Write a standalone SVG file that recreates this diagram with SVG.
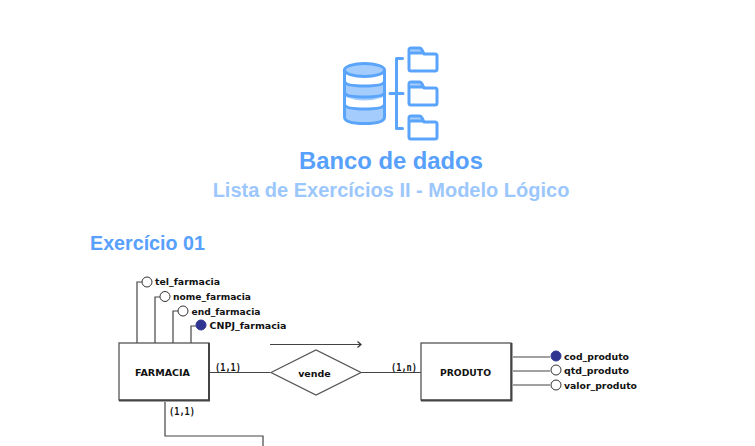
<svg xmlns="http://www.w3.org/2000/svg" width="755" height="446" viewBox="0 0 755 446">
<defs>
<marker id="arrow" markerUnits="userSpaceOnUse" markerWidth="6" markerHeight="8" refX="5" refY="4" orient="auto"><path d="M1.500 1L5 4L1.500 7" fill="none" stroke="#333" stroke-width="1.200"/></marker>
</defs>
<style>
text{font-family:"Liberation Sans",Arial,sans-serif}
.title{font-weight:700;text-anchor:middle}
.lab{font-family:"DejaVu Sans",Verdana,sans-serif;font-size:9.500px;font-weight:700;fill:#111}
.card{font-family:"DejaVu Sans Mono","Liberation Mono",monospace;font-size:11px;font-weight:700;fill:#111}
.ent{fill:#fff;stroke:#555;stroke-width:1.300}
.shadow{fill:none;stroke:#444;stroke-width:2}
.line{fill:none;stroke:#444;stroke-width:1.200}
.open{fill:#fff;stroke:#333;stroke-width:1}
.key{fill:#2f3590;stroke:#2f3590;stroke-width:1}
.ico{fill:none;stroke:#5ba4fb;stroke-width:3;stroke-linejoin:round;stroke-linecap:round}
.icof{fill:#a4cdfd}
</style>
<g id="icon">
<path class="icof" d="M345 70a19.500 6.500 0 0 1 39 0a19.500 6.500 0 0 1-39 0zM345 84q19.500 6 39 0v13q-19.500 7-39 0zM345 107q19.500 6 39 0v13q-19.500 5-39 0z"/>
<ellipse class="ico" cx="364.500" cy="70" rx="20" ry="6.500"/>
<path class="ico" d="M344.500 70v47q0 6.500 20 6.500t20-6.500v-47M344.500 81q0 5 20 5t20-5M344.500 92q0 5 20 5t20-5M344.500 104q0 5 20 5t20-5"/>
<path class="ico" d="M390 93.500h13M396.500 58.500h6M396.500 128.500h6M396.500 58.500v70"/>
<g id="folder1"><path class="icof" d="M411 48h10l2 5h-12z"/><path class="ico" d="M409 69V50q0-2 2-2h9q1 0 2 2l2 4h11q2 0 2 2v13q0 2-2 2h-24q-2 0-2-2zM409 53h14"/></g>
<g id="folder2"><path class="icof" d="M411 82h10l2 5h-12z"/><path class="ico" d="M409 103V84q0-2 2-2h9q1 0 2 2l2 4h11q2 0 2 2v13q0 2-2 2h-24q-2 0-2-2zM409 87h14"/></g>
<g id="folder3"><path class="icof" d="M411 116h10l2 5h-12z"/><path class="ico" d="M409 137v-19q0-2 2-2h9q1 0 2 2l2 4h11q2 0 2 2v13q0 2-2 2h-24q-2 0-2-2zM409 121h14"/></g>
</g>
<text class="title" x="391" y="169" font-size="23.800" fill="#57a0fb">Banco de dados</text>
<text class="title" x="391" y="197" font-size="20" fill="#9cc7fc">Lista de Exercícios II - Modelo Lógico</text>
<text x="90" y="250" font-size="19.700" font-weight="700" fill="#57a0fb">Exercício 01</text>
<g id="connectors">
<path class="line" d="M137 343V282H142M155 343V297H160M173 343V311H178M191 343V326H196"/>
<path class="line" d="M210 372.500H270M361 372.500H421"/>
<path class="line" d="M165 402V436H263V446"/>
<path class="line" d="M270 344.500H361" marker-end="url(#arrow)"/>
<path class="line" d="M513 357H550M513 371H550M513 385H550"/>
</g>
<g id="farmacia">
<rect class="ent" x="119" y="343" width="90" height="57"/>
<path class="shadow" d="M119 400.500H209V343"/>
<text class="lab" x="162.500" y="376" text-anchor="middle" font-size="9" textLength="55" lengthAdjust="spacingAndGlyphs">FARMACIA</text>
</g>
<g id="vende">
<path class="ent" d="M271 372.500L316 350L361 372.500L316 395Z"/>
<text class="lab" x="314.500" y="377" text-anchor="middle">vende</text>
</g>
<g id="produto">
<rect class="ent" x="421" y="343" width="90" height="57"/>
<path class="shadow" d="M421 400.500H511.500V343"/>
<text class="lab" x="465.500" y="376" text-anchor="middle" textLength="51" lengthAdjust="spacingAndGlyphs">PRODUTO</text>
</g>
<g id="attr-tel"><circle class="open" cx="147" cy="282" r="5"/><text class="lab" x="155" y="285" textLength="65" lengthAdjust="spacingAndGlyphs">tel_farmacia</text></g>
<g id="attr-nome"><circle class="open" cx="165" cy="296.500" r="5"/><text class="lab" x="173" y="300" textLength="78" lengthAdjust="spacingAndGlyphs">nome_farmacia</text></g>
<g id="attr-end"><circle class="open" cx="183" cy="311" r="5"/><text class="lab" x="191.500" y="314.500" textLength="69" lengthAdjust="spacingAndGlyphs">end_farmacia</text></g>
<g id="attr-cnpj"><circle class="key" cx="201" cy="325" r="5"/><text class="lab" x="209.500" y="329" textLength="77" lengthAdjust="spacingAndGlyphs">CNPJ_farmacia</text></g>
<g id="attr-cod"><circle class="key" cx="556" cy="356" r="5"/><text class="lab" x="564" y="359.500" textLength="65" lengthAdjust="spacingAndGlyphs">cod_produto</text></g>
<g id="attr-qtd"><circle class="open" cx="556" cy="370" r="5"/><text class="lab" x="564" y="374" textLength="65" lengthAdjust="spacingAndGlyphs">qtd_produto</text></g>
<g id="attr-valor"><circle class="open" cx="556" cy="385" r="5"/><text class="lab" x="564" y="389" textLength="73" lengthAdjust="spacingAndGlyphs">valor_produto</text></g>
<text class="card" x="215" y="371" textLength="26" lengthAdjust="spacingAndGlyphs">(1,1)</text>
<text class="card" x="169" y="415" textLength="26" lengthAdjust="spacingAndGlyphs">(1,1)</text>
<text class="card" x="391" y="371" textLength="26" lengthAdjust="spacingAndGlyphs">(1,n)</text>
</svg>
